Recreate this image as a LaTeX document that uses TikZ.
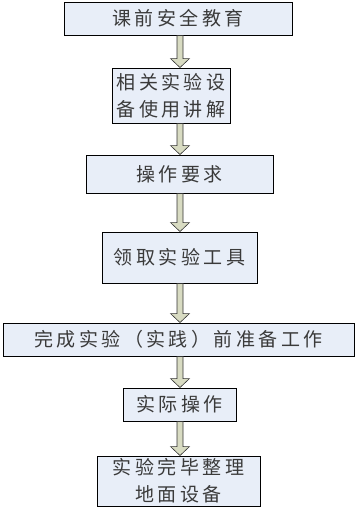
\documentclass[tikz,border=0pt]{standalone}
\usepackage{fontspec}
\newfontfamily\cjk[LetterSpace=18]{Noto Sans CJK SC}
\usetikzlibrary{calc}
\definecolor{boxfill}{HTML}{E8EEF8}
\definecolor{arrfill}{HTML}{D8DBC2}
\definecolor{txt}{HTML}{3A3A3A}
\tikzset{
  stepbox/.style={draw=black, line width=0.9pt, fill=boxfill, inner sep=0pt,
    align=center, text=txt, font=\cjk\fontsize{19}{27}\selectfont},
  fatarr/.style={draw=black!80, line width=0.6pt, fill=arrfill},
}
\newcommand\fatarrow[2]{%
  \path[fatarr] let \p1=(#1.south -| spine), \p2=(#2.north -| spine) in
    (\x1-3,\y1) -- (\x1+3,\y1) -- (\x1+3,\y2+9) -- (\x1+9.5,\y2+9) -- (\x1,\y2)
    -- (\x1-9.5,\y2+9) -- (\x1-3,\y2+9) -- cycle;}
\begin{document}
\begin{tikzpicture}[x=1pt,y=-1pt]
\useasboundingbox (0,0) rectangle (358,512);
\coordinate (spine) at (180,0);
\node[stepbox, minimum width=228pt, minimum height=33pt] (b1) at (178,18.5) {课前安全教育};
\node[stepbox, minimum width=118pt, minimum height=55pt] (b2) at (171,95.5) {相关实验设\\备使用讲解};
\node[stepbox, minimum width=187pt, minimum height=38pt] (b3) at (179.5,174) {操作要求};
\node[stepbox, minimum width=155pt, minimum height=51pt] (b4) at (179.5,257.5) {领取实验工具};
\node[stepbox, minimum width=351pt, minimum height=33pt] (b5) at (178.5,339.5) {完成实验（实践）前准备工作};
\node[stepbox, minimum width=113pt, minimum height=33pt] (b6) at (179.5,404.5) {实际操作};
\node[stepbox, minimum width=163pt, minimum height=50pt] (b7) at (178.5,481) {实验完毕整理\\地面设备};
\fatarrow{b1}{b2}
\fatarrow{b2}{b3}
\fatarrow{b3}{b4}
\fatarrow{b4}{b5}
\fatarrow{b5}{b6}
\fatarrow{b6}{b7}
\end{tikzpicture}
\end{document}
